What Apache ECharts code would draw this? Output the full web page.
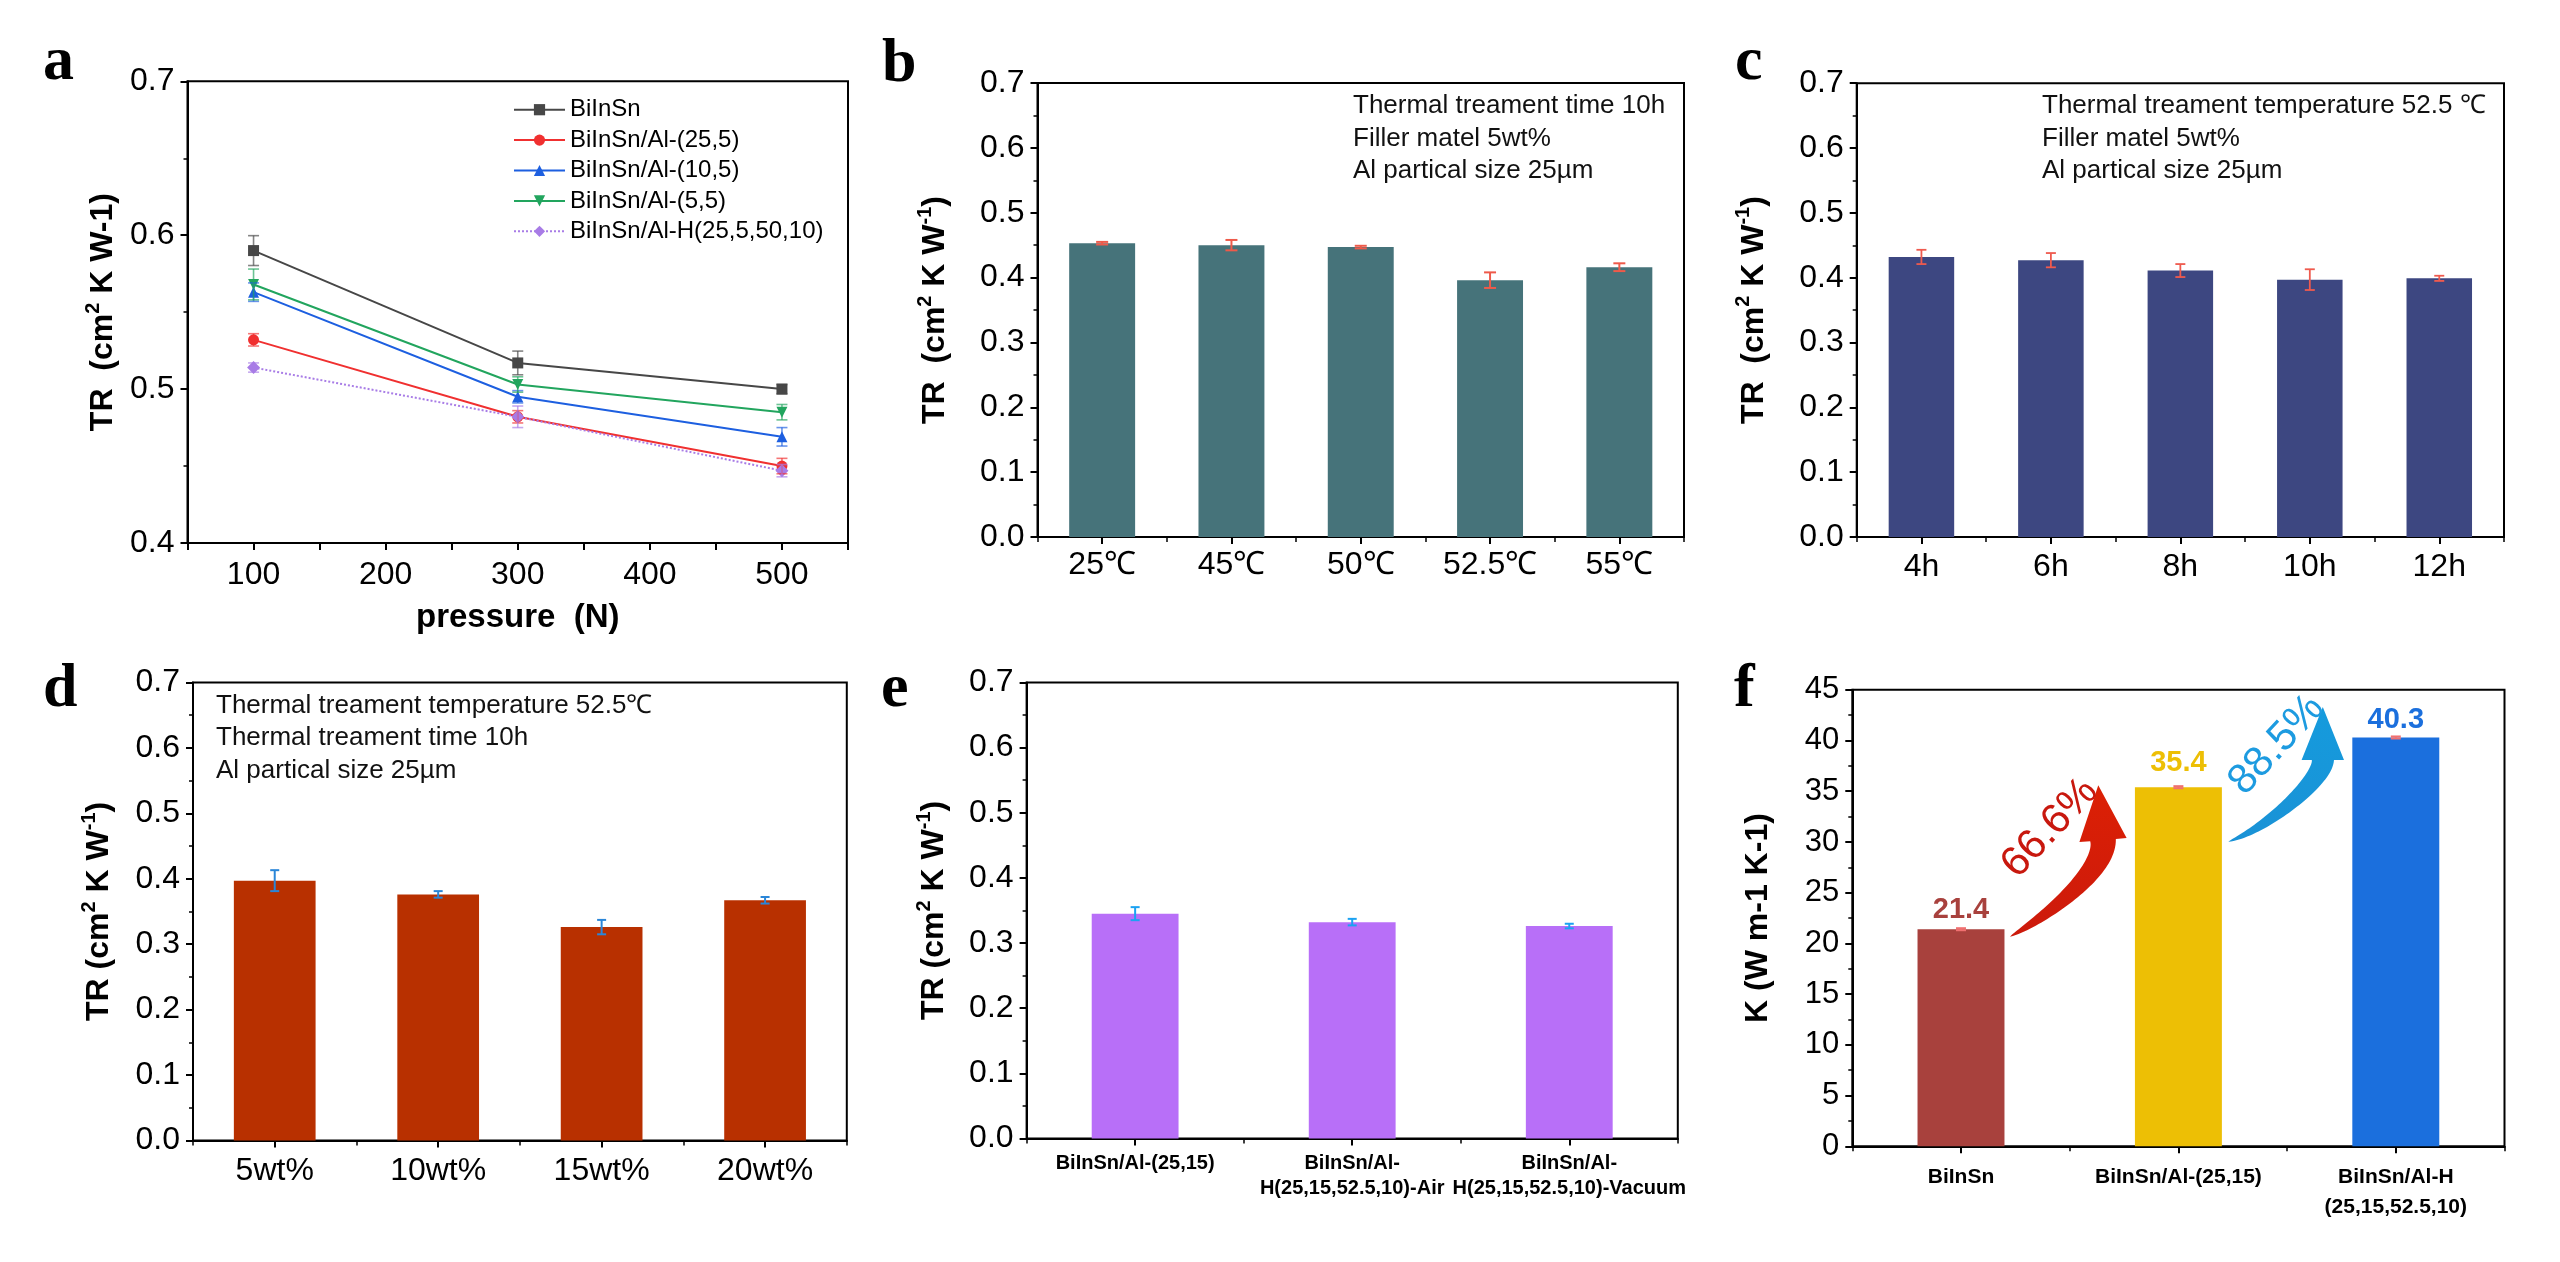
<!DOCTYPE html>
<html>
<head>
<meta charset="utf-8">
<style>
html,body{margin:0;padding:0;background:#fff;}
#chart{width:2560px;height:1262px;}
</style>
<script src="https://cdn.jsdelivr.net/npm/echarts@6.0.0/dist/echarts.min.js"></script>
</head>
<body>
<div id="chart"></div>
<script>
// ---------------- data ----------------
const pressure = [100, 300, 500];
const seriesNamesA = ['BiInSn', 'BiInSn/Al-(25,5)', 'BiInSn/Al-(10,5)', 'BiInSn/Al-(5,5)', 'BiInSn/Al-H(25,5,50,10)'];
const trBiInSn = [0.590, 0.517, 0.500];
const errBiInSn = [0.0097, 0.0077, 0.003];
const trAl25_5 = [0.532, 0.482, 0.450];
const errAl25_5 = [0.004, 0.004, 0.005];
const trAl10_5 = [0.563, 0.495, 0.469];
const errAl10_5 = [0.006, 0.004, 0.006];
const trAl5_5 = [0.568, 0.503, 0.485];
const errAl5_5 = [0.010, 0.005, 0.005];
const trAlH = [0.514, 0.482, 0.447];
const errAlH = [0.003, 0.007, 0.004];

const tempCats = ['25℃', '45℃', '50℃', '52.5℃', '55℃'];
const trTemp = [0.453, 0.450, 0.447, 0.396, 0.416];
const errTemp = [0.002, 0.008, 0.002, 0.012, 0.006];

const timeCats = ['4h', '6h', '8h', '10h', '12h'];
const trTime = [0.432, 0.427, 0.411, 0.397, 0.399];
const errTime = [0.011, 0.011, 0.010, 0.016, 0.004];

const fillerCats = ['5wt%', '10wt%', '15wt%', '20wt%'];
const trFiller = [0.397, 0.376, 0.326, 0.367];
const errFiller = [0.016, 0.005, 0.011, 0.005];

const atmCats = ['BiInSn/Al-(25,15)', 'BiInSn/Al-\nH(25,15,52.5,10)-Air', 'BiInSn/Al-\nH(25,15,52.5,10)-Vacuum'];
const trAtm = [0.345, 0.332, 0.326];
const errAtm = [0.010, 0.005, 0.0035];

const kCats = ['BiInSn', 'BiInSn/Al-(25,15)', 'BiInSn/Al-H\n(25,15,52.5,10)'];
const kVals = [21.4, 35.4, 40.3];
const kErr = [0.1, 0.1, 0.1];
const gainLabels = ['66.6%', '88.5%'];

const noteB = ['Thermal treament time 10h', 'Filler matel 5wt%', 'Al partical size 25µm'];
const noteC = ['Thermal treament temperature 52.5 ℃', 'Filler matel 5wt%', 'Al partical size 25µm'];
const noteD = ['Thermal treament temperature 52.5℃', 'Thermal treament time 10h', 'Al partical size 25µm'];
const panelLetters = ['a', 'b', 'c', 'd', 'e', 'f'];

// ---------------- styles ----------------
const FONT = '"Liberation Sans", Arial, Helvetica, sans-serif';
const SERIF = '"Liberation Serif", "Times New Roman", serif';
const colorsA = ['#474747', '#f03030', '#1d5fe0', '#22a55e', '#a87ce6'];
const symbolsA = ['rect', 'circle', 'triangle', 'triangle', 'diamond'];
const rotA = [0, 0, 0, 180, 0];
const kColors = ['#a8413d', '#edbf05', '#1b6fdd'];
const kLabelDist = [5, 10, 3];

const grids = [
  {left: 187.5, top: 81.3, width: 660.5, height: 461.7},
  {left: 1037.5, top: 83, width: 646.5, height: 454},
  {left: 1856.7, top: 83.2, width: 647.3, height: 453.8},
  {left: 193, top: 682.4, width: 653.8, height: 458},
  {left: 1026.6, top: 682.4, width: 651.2, height: 456},
  {left: 1852.3, top: 689.8, width: 652.2, height: 456.5}
].map(g => Object.assign({show: true, borderColor: '#000', borderWidth: 2, backgroundColor: 'transparent', containLabel: false, outerBoundsMode: 'none'}, g));

const axisLine = {show: true, onZero: false, lineStyle: {color: '#000', width: 2}};
const nameStyle = {
  fontSize: 32, fontWeight: 'bold', fontFamily: FONT, color: '#000', lineHeight: 40,
  rich: {sup: {fontSize: 20, fontWeight: 'bold', fontFamily: FONT, color: '#000', lineHeight: 20, verticalAlign: 'top'}}
};

function yAxisTR(gi, min, max, interval, name, gap, fs) {
  return {
    type: 'value', gridIndex: gi, min: min, max: max, interval: interval,
    axisLine: axisLine,
    axisTick: {show: true, length: 7, lineStyle: {color: '#000', width: 2}},
    minorTick: {show: true, splitNumber: 2, length: 4, lineStyle: {color: '#000', width: 1.5}},
    splitLine: {show: false},
    axisLabel: {color: '#000', fontSize: fs || 32, fontFamily: FONT, margin: 13,
      formatter: v => (interval < 1 ? v.toFixed(1) : String(Math.round(v)))},
    name: name, nameLocation: 'middle', nameRotate: 90, nameGap: gap,
    nameTextStyle: nameStyle
  };
}

function catX(gi, cats, labelOpts) {
  return [{
    type: 'category', gridIndex: gi, data: cats, boundaryGap: true, position: 'bottom',
    axisLine: axisLine,
    axisTick: {show: true, alignWithLabel: true, interval: 0, length: 7, lineStyle: {color: '#000', width: 2}},
    axisLabel: Object.assign({interval: 0, color: '#000', fontFamily: FONT, fontSize: 32, margin: 14}, labelOpts),
    splitLine: {show: false}
  }, {
    type: 'category', gridIndex: gi, data: cats, boundaryGap: true, position: 'bottom',
    axisLine: {show: false}, axisLabel: {show: false},
    axisTick: {show: true, alignWithLabel: false, interval: 0, length: 5, lineStyle: {color: '#000', width: 1.5}},
    splitLine: {show: false}
  }];
}

function errSeries(xi, yi, data, color, capHalf, width) {
  return {
    type: 'custom', xAxisIndex: xi, yAxisIndex: yi, data: data, encode: {x: 0, y: [1, 2]}, z: 6, silent: true,
    renderItem: function (params, api) {
      const x = api.value(0);
      const lo = api.coord([x, api.value(1)]);
      const hi = api.coord([x, api.value(2)]);
      const style = {stroke: color, lineWidth: width};
      return {type: 'group', children: [
        {type: 'line', shape: {x1: lo[0], y1: lo[1], x2: hi[0], y2: hi[1]}, style: style},
        {type: 'line', shape: {x1: lo[0] - capHalf, y1: lo[1], x2: lo[0] + capHalf, y2: lo[1]}, style: style},
        {type: 'line', shape: {x1: hi[0] - capHalf, y1: hi[1], x2: hi[0] + capHalf, y2: hi[1]}, style: style}
      ]};
    }
  };
}
const errRows = (xs, vals, errs) => vals.map((v, i) => [xs[i], v - errs[i], v + errs[i]]);
const idx = arr => arr.map((_, i) => i);

// ---------------- axes ----------------
const xAxes = [{
  type: 'value', gridIndex: 0, min: 50, max: 550, interval: 50, position: 'bottom',
  axisLine: axisLine,
  axisTick: {show: true, length: 7, lineStyle: {color: '#000', width: 2}},
  splitLine: {show: false},
  axisLabel: {color: '#000', fontSize: 32, fontFamily: FONT, margin: 16, formatter: v => (v % 100 === 0 ? String(v) : '')},
  name: 'pressure  (N)', nameLocation: 'middle', nameGap: 58,
  nameTextStyle: {fontSize: 33, fontWeight: 'bold', fontFamily: FONT, color: '#000'}
}].concat(
  catX(1, tempCats, {margin: 12}),
  catX(2, timeCats, {margin: 14}),
  catX(3, fillerCats, {margin: 15}),
  catX(4, atmCats, {fontSize: 20, fontWeight: 'bold', lineHeight: 25, margin: 13}),
  catX(5, kCats, {fontSize: 21, fontWeight: 'bold', lineHeight: 30, margin: 16})
);
const yAxes = [
  yAxisTR(0, 0.4, 0.7, 0.1, 'TR  (cm{sup|2} K W-1)', 64),
  yAxisTR(1, 0, 0.7, 0.1, 'TR  (cm{sup|2} K W{sup|-1})', 82),
  yAxisTR(2, 0, 0.7, 0.1, 'TR  (cm{sup|2} K W{sup|-1})', 83),
  yAxisTR(3, 0, 0.7, 0.1, 'TR (cm{sup|2} K W{sup|-1})', 74),
  yAxisTR(4, 0, 0.7, 0.1, 'TR (cm{sup|2} K W{sup|-1})', 72),
  yAxisTR(5, 0, 45, 5, 'K (W m-1 K-1)', 74, 31)
];

// ---------------- series ----------------
const lineVals = [trBiInSn, trAl25_5, trAl10_5, trAl5_5, trAlH];
const lineErrs = [errBiInSn, errAl25_5, errAl10_5, errAl5_5, errAlH];
const series = [];
lineVals.forEach((vals, k) => {
  series.push({
    type: 'line', name: seriesNamesA[k], xAxisIndex: 0, yAxisIndex: 0,
    data: vals.map((v, i) => [pressure[i], v]),
    symbol: symbolsA[k], symbolRotate: rotA[k], symbolSize: k === 4 ? 13 : 11, showSymbol: true,
    lineStyle: {color: colorsA[k], width: 2, type: k === 4 ? 'dotted' : 'solid'},
    itemStyle: {color: colorsA[k]}, z: 4, animation: false
  });
});
lineVals.forEach((vals, k) => {
  series.push(errSeries(0, 0, errRows(pressure, vals, lineErrs[k]), colorsA[k] + 'aa', 5.5, 1.6));
});

function barSeries(xi, yi, vals, color, width) {
  return {type: 'bar', xAxisIndex: xi, yAxisIndex: yi, data: vals, barWidth: width, itemStyle: {color: color}, z: 3, animation: false};
}
series.push(barSeries(1, 1, trTemp, '#46737a', '51%'));
series.push(errSeries(1, 1, errRows(idx(tempCats), trTemp, errTemp), '#ee5a4a', 6, 2));
series.push(barSeries(3, 2, trTime, '#3d4781', '50.6%'));
series.push(errSeries(3, 2, errRows(idx(timeCats), trTime, errTime), '#ef5a4e', 5, 1.8));
series.push(barSeries(5, 3, trFiller, '#b83000', '50%'));
series.push(errSeries(5, 3, errRows(idx(fillerCats), trFiller, errFiller), '#2a86d8', 4.5, 2));
series.push(barSeries(7, 4, trAtm, '#b86ff8', '40%'));
series.push(errSeries(7, 4, errRows(idx(atmCats), trAtm, errAtm), '#1ba2f2', 4.5, 2));
series.push({
  type: 'bar', xAxisIndex: 9, yAxisIndex: 5, barWidth: '40%', z: 3, animation: false,
  data: kVals.map((v, i) => ({value: v, itemStyle: {color: kColors[i]}, label: {color: kColors[i], distance: kLabelDist[i]}})),
  label: {show: true, position: 'top', fontSize: 29, fontWeight: 'bold', fontFamily: FONT,
    formatter: p => p.value.toFixed(1)}
});
series.push(errSeries(9, 5, errRows(idx(kCats), kVals, kErr), '#f07070', 5, 2));

// ---------------- static texts ----------------
const graphics = [];
const letterPos = [[43, 63], [882, 65], [1735, 63], [43, 690], [881, 690], [1734, 690]];
panelLetters.forEach((L, i) => {
  graphics.push({type: 'text', x: letterPos[i][0], y: letterPos[i][1], silent: true,
    style: {text: L, fontSize: 62, fontWeight: 'bold', fontFamily: SERIF, fill: '#000', align: 'left', verticalAlign: 'middle'}});
});
function notes(lines, x, y0, dy) {
  lines.forEach((t, i) => graphics.push({type: 'text', x: x, y: y0 + i * dy, silent: true,
    style: {text: t, fontSize: 26, fontFamily: FONT, fill: '#111', align: 'left', verticalAlign: 'middle'}}));
}
notes(noteB, 1353, 106, 32.5);
notes(noteC, 2042, 106, 32.5);
notes(noteD, 216, 705.4, 32.8);

const option = {
  animation: false,
  backgroundColor: '#fff',
  textStyle: {fontFamily: FONT},
  grid: grids,
  xAxis: xAxes,
  yAxis: yAxes,
  legend: [{
    data: seriesNamesA, orient: 'vertical', left: 508, top: 92.7,
    itemWidth: 51, itemHeight: 14, itemGap: 6.4,
    textStyle: {fontSize: 24, fontFamily: FONT, color: '#000', lineHeight: 24}
  }],
  series: series,
  graphic: graphics
};

const chart = echarts.init(document.getElementById('chart'), null, {renderer: 'canvas'});
chart.setOption(option);

// ---------------- curved arrows (anchored to panel f's axes) ----------------
function fPix(fi, v) {
  const i0 = Math.floor(fi), f = fi - i0;
  const a = chart.convertToPixel({xAxisIndex: 9, yAxisIndex: 5}, [i0, v]);
  const b = chart.convertToPixel({xAxisIndex: 9, yAxisIndex: 5}, [i0 + 1, v]);
  return [a[0] + (b[0] - a[0]) * f, a[1]];
}
function curvedArrow(P0, C1, C2, P3, shaftHalf, headHalf, headLen) {
  const left = [], right = [], N = 48;
  for (let i = 0; i <= N; i++) {
    const t = i / N, u = 1 - t;
    const x = u * u * u * P0[0] + 3 * u * u * t * C1[0] + 3 * u * t * t * C2[0] + t * t * t * P3[0];
    const y = u * u * u * P0[1] + 3 * u * u * t * C1[1] + 3 * u * t * t * C2[1] + t * t * t * P3[1];
    const dx = 3 * u * u * (C1[0] - P0[0]) + 6 * u * t * (C2[0] - C1[0]) + 3 * t * t * (P3[0] - C2[0]);
    const dy = 3 * u * u * (C1[1] - P0[1]) + 6 * u * t * (C2[1] - C1[1]) + 3 * t * t * (P3[1] - C2[1]);
    const len = Math.hypot(dx, dy) || 1;
    const nx = -dy / len, ny = dx / len;
    const w = shaftHalf * Math.pow(t, 0.7);
    left.push([x + nx * w, y + ny * w]);
    right.push([x - nx * w, y - ny * w]);
  }
  const tl = Math.hypot(P3[0] - C2[0], P3[1] - C2[1]);
  const T = [(P3[0] - C2[0]) / tl, (P3[1] - C2[1]) / tl];
  const n = [-T[1], T[0]];
  const tip = [P3[0] + T[0] * headLen, P3[1] + T[1] * headLen];
  const hl = [P3[0] + n[0] * headHalf, P3[1] + n[1] * headHalf];
  const hr = [P3[0] - n[0] * headHalf, P3[1] - n[1] * headHalf];
  return left.concat([hl, tip, hr], right.reverse());
}
const redArrow = curvedArrow(fPix(0.2254, 20.66), fPix(0.4071, 22.79), fPix(0.6651, 27.24), fPix(0.6532, 30.19), 12.9, 23.7, 55);
const blueArrow = curvedArrow(fPix(1.2295, 30.03), fPix(1.4043, 31.27), fPix(1.6642, 36.11), fPix(1.6642, 38.08), 11.2, 21.2, 53);
const redTxt = fPix(0.4094, 31.35);
const blueTxt = fPix(1.4522, 39.56);
const arrowGraphics = graphics.concat([
  {type: 'polygon', silent: true, z: 10, shape: {points: redArrow},
    style: {fill: new echarts.graphic.LinearGradient(0, 1, 0, 0, [{offset: 0, color: '#cc1a0c'}, {offset: 1, color: '#dc2004'}]), stroke: null}},
  {type: 'polygon', silent: true, z: 10, shape: {points: blueArrow},
    style: {fill: new echarts.graphic.LinearGradient(0, 1, 0, 0, [{offset: 0, color: '#1a92d6'}, {offset: 1, color: '#159bdd'}]), stroke: null}},
  {type: 'text', x: redTxt[0], y: redTxt[1], rotation: 46.7 * Math.PI / 180, silent: true, z: 10,
    style: {text: gainLabels[0], fontSize: 42, fontFamily: FONT, fill: '#c8180e', align: 'center', verticalAlign: 'middle'}},
  {type: 'text', x: blueTxt[0], y: blueTxt[1], rotation: 47.2 * Math.PI / 180, silent: true, z: 10,
    style: {text: gainLabels[1], fontSize: 42, fontFamily: FONT, fill: '#1d9be0', align: 'center', verticalAlign: 'middle'}}
]);
chart.setOption({graphic: arrowGraphics}, {replaceMerge: ['graphic']});
</script>
</body>
</html>
